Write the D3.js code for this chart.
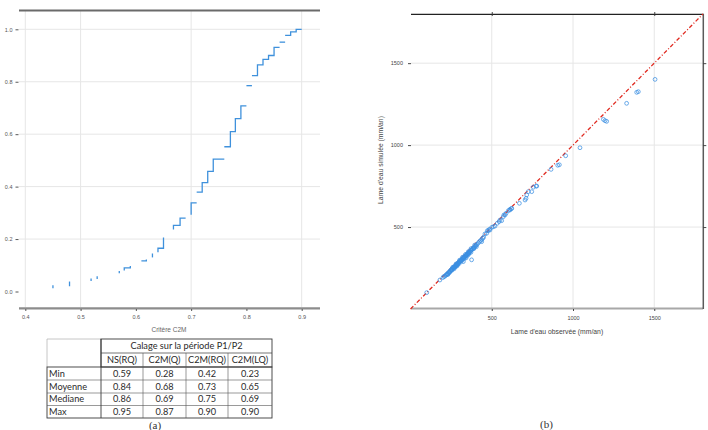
<!DOCTYPE html>
<html><head><meta charset="utf-8">
<script src="https://cdn.jsdelivr.net/npm/d3@7"></script>
<style>html,body{margin:0;padding:0;background:#fff;} svg{display:block;}</style>
</head><body>
<svg id="c" width="708" height="430"></svg>
<script>
// ---------- Data: panel (a) ECDF of the C2M criterion (visible step runs) ----------
const ecdfRuns = [
  [[0.45,0.012],[0.45,0.024]],
  [[0.48,0.020],[0.48,0.038]],
  [[0.519,0.040],[0.519,0.050]],
  [[0.53,0.048],[0.53,0.058]],
  [[0.57,0.070],[0.57,0.078]],
  [[0.579,0.080],[0.579,0.090],[0.59,0.090],[0.59,0.097]],
  [[0.61,0.117],[0.619,0.117],[0.619,0.122]],
  [[0.63,0.130],[0.63,0.145]],
  [[0.64,0.150],[0.64,0.165],[0.65,0.165],[0.65,0.206]],
  [[0.668,0.236],[0.668,0.252],[0.68,0.252],[0.68,0.280],[0.69,0.280]],
  [[0.70,0.293],[0.70,0.338],[0.71,0.338]],
  [[0.71,0.379],[0.72,0.379],[0.72,0.415],[0.73,0.415],[0.73,0.458],[0.74,0.458],[0.74,0.505],[0.76,0.505]],
  [[0.76,0.552],[0.771,0.552],[0.771,0.610],[0.78,0.610],[0.78,0.659],[0.79,0.659],[0.79,0.708],[0.80,0.708]],
  [[0.80,0.785],[0.81,0.785]],
  [[0.81,0.823],[0.82,0.823],[0.82,0.864],[0.83,0.864],[0.83,0.885],[0.84,0.885],[0.84,0.900],[0.85,0.900],[0.85,0.931],[0.86,0.931]],
  [[0.86,0.951],[0.87,0.951]],
  [[0.87,0.977],[0.88,0.977],[0.88,0.990],[0.89,0.990],[0.89,1.0],[0.90,1.0]]
];
const leftXTicks = [0.4,0.5,0.6,0.7,0.8,0.9];
const leftYTicks = [0.0,0.2,0.4,0.6,0.8,1.0];
const leftGridX = [0.4,0.5,0.7,0.9];
const leftGridY = [0.2,0.4,0.6,0.8,1.0];
const leftXTitle = "Critère C2M";

// ---------- Data: table ----------
const tableHeader = "Calage sur la période P1/P2";
const tableCols = ["NS(RQ)","C2M(Q)","C2M(RQ)","C2M(LQ)"];
const tableRows = ["Min","Moyenne","Mediane","Max"];
const tableValues = [
  ["0.59","0.28","0.42","0.23"],
  ["0.84","0.68","0.73","0.65"],
  ["0.86","0.69","0.75","0.69"],
  ["0.95","0.87","0.90","0.90"]
];

// ---------- Data: panel (b) observed vs simulated runoff (mm/an) ----------
const observed = [100,181,
 200,205,212,218,222,226,230,234,238,241,245,248,250,253,256,258,262,264,267,270,272,275,278,280,283,285,288,290,293,296,298,300,303,305,308,310,312,315,318,320,323,326,328,331,334,337,340,343,346,348,352,355,358,362,365,368,372,375,378,382,386,390,395,400,405,410,417,425,432,438,445,450,
 268,285,300,315,330,345,360,376,325,342,355,372,390,405,290,275,255,240,230,
 260,280,302,320,338,356,372,395,
 438,458,469,473,479,485,489,500,510,520,534,545,551,561,571,575,582,588,602,612,612,620,623,670,705,711,715,725,746,756,773,777,865,906,916,955,1043,1187,1197,1207,1330,1392,1402,1505];
const simulated = [100,177,
 192,198,200,207,210,214,216,222,224,229,231,236,238,241,242,247,249,252,255,254,260,262,263,268,270,272,274,278,279,282,286,287,290,292,295,294,299,301,303,307,309,312,315,317,318,323,326,328,331,335,337,340,345,346,351,352,358,360,364,366,372,375,380,386,390,395,403,412,418,424,432,438,
 245,262,278,293,306,322,338,300,289,312,330,346,368,380,268,255,236,222,210,
 255,275,298,316,333,350,368,390,
 411,458,462,478,478,486,482,498,502,506,523,533,543,539,563,574,574,584,600,604,608,612,614,645,665,675,696,716,716,743,750,750,852,877,880,935,984,1157,1149,1145,1255,1322,1326,1401];
const rightTicks = [500,1000,1500];
const rightTopTicks = [500,1500];
const identityLine = [0,1800];
const rightXTitle = "Lame d'eau observée (mm/an)";
const rightYTitle = "Lame d'eau simulée (mm/an)";

// ---------- Drawing ----------
const svg = d3.select("#c");
const sans = "'Liberation Sans', Arial, sans-serif";

// ===== Panel (a) =====
const xL = d3.scaleLinear().domain([0.4,0.9]).range([25.3,301.7]);
const yL = d3.scaleLinear().domain([0,1]).range([291.5,29.3]);
const gA = svg.append("g");

gA.selectAll("line.gx").data(leftGridX).join("line").attr("class","gx")
  .attr("x1",d=>xL(d)).attr("x2",d=>xL(d)).attr("y1",11).attr("y2",307)
  .attr("stroke","#e6e6e6").attr("stroke-width",1);
gA.selectAll("line.gy").data(leftGridY).join("line").attr("class","gy")
  .attr("x1",19).attr("x2",320).attr("y1",d=>yL(d)).attr("y2",d=>yL(d))
  .attr("stroke","#e6e6e6").attr("stroke-width",1);

gA.append("line").attr("x1",19).attr("x2",320).attr("y1",10.5).attr("y2",10.5)
  .attr("stroke","#6a6a6a").attr("stroke-width",2);
gA.append("line").attr("x1",19).attr("x2",320).attr("y1",308.3).attr("y2",308.3)
  .attr("stroke","#8c8c8c").attr("stroke-width",2.2);

const axLy = gA.append("g").attr("transform","translate(18.5,0)")
  .call(d3.axisLeft(yL).tickValues(leftYTicks).tickSize(3).tickPadding(3).tickFormat(d3.format(".1f")));
const axLx = gA.append("g").attr("transform","translate(0,309)")
  .call(d3.axisBottom(xL).tickValues(leftXTicks).tickSize(2).tickPadding(4).tickFormat(d3.format(".1f")));
[axLy, axLx].forEach(a=>{
  a.select(".domain").remove();
  a.selectAll(".tick line").attr("stroke","#444").attr("stroke-width",0.9);
  a.selectAll(".tick text").attr("font-family",sans).attr("font-size",5.5).attr("fill","#555");
});

const lineL = d3.line().x(d=>xL(d[0])).y(d=>yL(d[1]));
gA.selectAll("path.run").data(ecdfRuns).join("path").attr("class","run")
  .attr("d",lineL).attr("fill","none").attr("stroke","#3f91dc")
  .attr("stroke-width",1.3).attr("stroke-linejoin","miter");

gA.append("text").attr("x",169).attr("y",332).attr("text-anchor","middle")
  .attr("font-family",sans).attr("font-size",6.5).attr("fill","#666").text(leftXTitle);

// ===== Table =====
const tb = svg.append("g").attr("font-family","Lato, 'Open Sans', sans-serif").attr("font-size",9.2).attr("fill","#2a2a2a");
const colEdges = [47,101,143,186,228,272];
const rowEdges = [339,353,367,380,393,405.5,418];
tb.append("path").attr("d",`M${colEdges[0]},${rowEdges[2]}V${rowEdges[0]}H${colEdges[1]}`)
  .attr("fill","none").attr("stroke","#b8b8b8").attr("stroke-width",0.8);
const dark = "#3a3a3a";
tb.append("rect").attr("x",colEdges[1]).attr("y",rowEdges[0]).attr("width",colEdges[5]-colEdges[1]).attr("height",rowEdges[2]-rowEdges[0])
  .attr("fill","none").attr("stroke",dark).attr("stroke-width",0.9);
tb.append("line").attr("x1",colEdges[1]).attr("x2",colEdges[5]).attr("y1",rowEdges[1]).attr("y2",rowEdges[1]).attr("stroke",dark).attr("stroke-width",0.7);
tb.append("rect").attr("x",colEdges[0]).attr("y",rowEdges[2]).attr("width",colEdges[5]-colEdges[0]).attr("height",rowEdges[6]-rowEdges[2])
  .attr("fill","none").attr("stroke",dark).attr("stroke-width",0.9);
tb.selectAll("line.rl").data(rowEdges.slice(3,6)).join("line").attr("class","rl")
  .attr("x1",colEdges[0]).attr("x2",colEdges[5]).attr("y1",d=>d).attr("y2",d=>d).attr("stroke","#555").attr("stroke-width",0.6);
tb.append("line").attr("x1",colEdges[1]).attr("x2",colEdges[1]).attr("y1",rowEdges[0]).attr("y2",rowEdges[6]).attr("stroke",dark).attr("stroke-width",0.9);
tb.selectAll("line.cl").data(colEdges.slice(2,5)).join("line").attr("class","cl")
  .attr("x1",d=>d).attr("x2",d=>d).attr("y1",rowEdges[1]).attr("y2",rowEdges[6]).attr("stroke","#555").attr("stroke-width",0.6);
tb.append("text").attr("x",(colEdges[1]+colEdges[5])/2).attr("y",(rowEdges[0]+rowEdges[1])/2).attr("dy","0.35em")
  .attr("text-anchor","middle").text(tableHeader);
tb.selectAll("text.ch").data(tableCols).join("text").attr("class","ch")
  .attr("x",(d,i)=>(colEdges[i+1]+colEdges[i+2])/2).attr("y",(rowEdges[1]+rowEdges[2])/2).attr("dy","0.35em")
  .attr("text-anchor","middle").text(d=>d);
tb.selectAll("text.rh").data(tableRows).join("text").attr("class","rh")
  .attr("x",colEdges[0]+2).attr("y",(d,i)=>(rowEdges[i+2]+rowEdges[i+3])/2).attr("dy","0.35em").text(d=>d);
tableValues.forEach((row,r)=>{
  tb.selectAll(null).data(row).join("text")
    .attr("x",(d,i)=>(colEdges[i+1]+colEdges[i+2])/2).attr("y",(rowEdges[r+2]+rowEdges[r+3])/2).attr("dy","0.35em")
    .attr("text-anchor","middle").text(d=>d);
});
svg.append("text").attr("x",155).attr("y",429).attr("text-anchor","middle")
  .attr("font-family","'Liberation Serif', 'DejaVu Serif', serif").attr("font-size",11).attr("fill","#333").text("(a)");

// ===== Panel (b) =====
const xR = d3.scaleLinear().domain([0,1800]).range([410.5,703]);
const yR = d3.scaleLinear().domain([0,1800]).range([309,14]);
const gB = svg.append("g");
gB.selectAll("line.gx").data(rightTicks).join("line").attr("class","gx")
  .attr("x1",d=>xR(d)).attr("x2",d=>xR(d)).attr("y1",14).attr("y2",308)
  .attr("stroke","#e6e6e6");
gB.selectAll("line.gy").data(rightTicks).join("line").attr("class","gy")
  .attr("x1",411).attr("x2",703).attr("y1",d=>yR(d)).attr("y2",d=>yR(d))
  .attr("stroke","#e6e6e6");
gB.append("line").attr("x1",411).attr("x2",703).attr("y1",308.5).attr("y2",308.5).attr("stroke","#a8a8a8").attr("stroke-width",2);
gB.append("line").attr("x1",411).attr("x2",704).attr("y1",14.3).attr("y2",14.3).attr("stroke","#222").attr("stroke-width",1.3);
gB.append("line").attr("x1",703.3).attr("x2",703.3).attr("y1",14).attr("y2",309).attr("stroke","#5a5a5a").attr("stroke-width",1.5);

const fmt = d3.format("d");
const axRl = gB.append("g").attr("transform","translate(411,0)")
  .call(d3.axisLeft(yR).tickValues(rightTicks).tickSize(3).tickPadding(5).tickFormat(fmt));
const axRr = gB.append("g").attr("transform","translate(703.3,0)")
  .call(d3.axisRight(yR).tickValues(rightTicks).tickSize(3).tickFormat(""));
const axRt = gB.append("g").attr("transform","translate(0,16)")
  .call(d3.axisTop(xR).tickValues(rightTopTicks).tickSize(4).tickFormat(""));
const axRb = gB.append("g").attr("transform","translate(0,309)")
  .call(d3.axisBottom(xR).tickValues(rightTicks).tickSize(2).tickPadding(5).tickFormat(fmt));
[axRl,axRr,axRt,axRb].forEach(a=>{
  a.select(".domain").remove();
  a.selectAll(".tick line").attr("stroke","#333").attr("stroke-width",0.9);
  a.selectAll(".tick text").attr("font-family",sans).attr("font-size",5.5).attr("fill","#444");
});

gB.append("path").datum(identityLine)
  .attr("d",d3.line().x(d=>xR(d)).y(d=>yR(d)))
  .attr("stroke","#e02a20").attr("stroke-width",1.3).attr("fill","none")
  .attr("stroke-dasharray","4,2,1,2");

gB.selectAll("circle").data(observed.map((o,i)=>[o,simulated[i]])).join("circle")
  .attr("cx",d=>xR(d[0])).attr("cy",d=>yR(d[1])).attr("r",1.9)
  .attr("fill","none").attr("stroke","#3b8fe2").attr("stroke-width",0.75);

gB.append("text").attr("x",557).attr("y",334).attr("text-anchor","middle")
  .attr("font-family",sans).attr("font-size",6.8).attr("fill","#444").text(rightXTitle);
gB.append("text").attr("transform","translate(382.5,160) rotate(-90)").attr("text-anchor","middle")
  .attr("font-family",sans).attr("font-size",6.8).attr("fill","#444").text(rightYTitle);
svg.append("text").attr("x",546.5).attr("y",428).attr("text-anchor","middle")
  .attr("font-family","'Liberation Serif', 'DejaVu Serif', serif").attr("font-size",11).attr("fill","#333").text("(b)");
</script>
</body></html>
